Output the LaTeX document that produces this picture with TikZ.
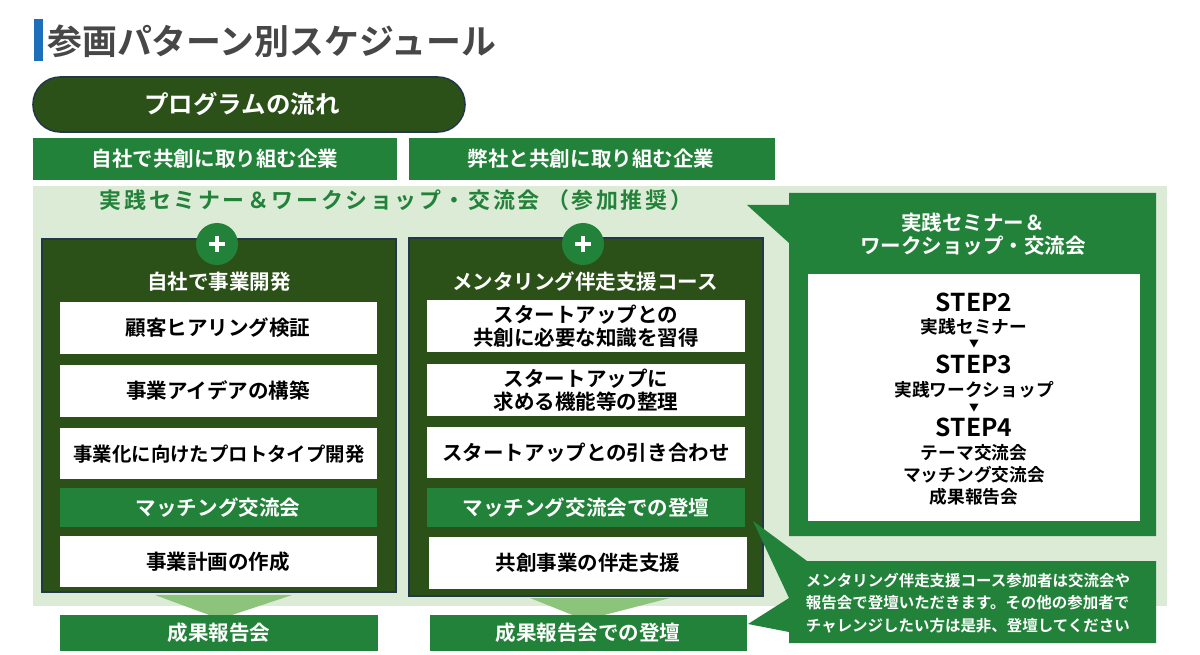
\documentclass[tikz,border=0pt]{standalone}
\usepackage{fontspec}
\setmainfont{Noto Sans CJK JP}[BoldFont={Noto Sans CJK JP Bold}]
\definecolor{dkgreen}{HTML}{2B5118}
\definecolor{midgreen}{HTML}{23823A}
\definecolor{palegreen}{HTML}{DCEBD6}
\definecolor{trigreen}{HTML}{8DC47C}
\definecolor{navyline}{HTML}{22384A}
\definecolor{titlegray}{HTML}{474747}
\definecolor{barblue}{HTML}{1E6FBA}
\begin{document}
\begin{tikzpicture}[x=0.025cm, y=-0.025cm,
  every node/.style={inner sep=0pt},
  boxtxt/.style={font=\bfseries\fontsize{14.6}{16.5}\selectfont, align=center},
  wtxt/.style={boxtxt, text=white},
  steptxt/.style={font=\bfseries\fontsize{17.5}{20}\selectfont},
  subtxt/.style={font=\bfseries\fontsize{12.6}{15}\selectfont},
  darkbox/.style={fill=dkgreen, draw=navyline, line width=1.1pt}]
  \useasboundingbox (0,0) rectangle (1200,655);
  % title
  \fill[barblue] (34,19) rectangle (43,61);
  \node[anchor=west, text=titlegray, font=\bfseries\fontsize{24.8}{29}\selectfont] (title) at (47,41) {参画パターン別スケジュール};
  % program pill
  \draw[darkbox, rounded corners=0.68cm] (33,77) rectangle (465,132);
  \node[wtxt, font=\bfseries\fontsize{17.4}{20}\selectfont] (flow) at (242,104) {プログラムの流れ};
  % two headers
  \fill[midgreen] (33,138) rectangle (397,180);
  \node[wtxt] (selfco) at (215,159) {自社で共創に取り組む企業};
  \fill[midgreen] (409,138) rectangle (775,180);
  \node[wtxt] (ourco) at (591,159) {弊社と共創に取り組む企業};
  % pale background
  \fill[palegreen] (33,186) rectangle (1167,606);
  \node[text=midgreen, font=\bfseries\fontsize{15.6}{18}\selectfont\addfontfeature{LetterSpace=12}] (recom) at (396,200) {実践セミナー＆ワークショップ・交流会 （参加推奨）};
  % left column
  \draw[darkbox] (42,239) rectangle (396,592);
  \fill[midgreen] (217,244) circle (21);
  \draw[white, line width=2.8pt] (209,244) -- (225,244) (217,236) -- (217,252);
  \node[wtxt] (selfdev) at (219,282) {自社で事業開発};
  \fill[white] (60,302) rectangle (377,354);
  \node[boxtxt] (hear) at (218,328) {顧客ヒアリング検証};
  \fill[white] (60,365) rectangle (377,417);
  \node[boxtxt] (idea) at (218,391) {事業アイデアの構築};
  \fill[white] (60,428) rectangle (377,479);
  \node[boxtxt, font=\bfseries\fontsize{13.8}{16}\selectfont] (proto) at (219,454) {事業化に向けたプロトタイプ開発};
  \fill[midgreen] (60,488) rectangle (377,527);
  \node[wtxt] (match) at (218,508) {マッチング交流会};
  \fill[white] (60,536) rectangle (377,587);
  \node[boxtxt] (plan) at (218,562) {事業計画の作成};
  \fill[trigreen] (155,595) -- (292,595) -- (220,619) -- cycle;
  \fill[midgreen] (60,615) rectangle (378,651);
  \node[wtxt] (report) at (219,633) {成果報告会};
  % middle column
  \draw[darkbox] (409,238) rectangle (763,596);
  \fill[midgreen] (583,244) circle (21);
  \draw[white, line width=2.8pt] (575,244) -- (591,244) (583,236) -- (583,252);
  \node[wtxt] (mentor) at (585,282) {メンタリング伴走支援コース};
  \fill[white] (427,300) rectangle (745,352);
  \node[boxtxt] (learn) at (586,326) {スタートアップとの\\共創に必要な知識を習得};
  \fill[white] (427,364) rectangle (745,416);
  \node[boxtxt] (needs) at (586,390) {スタートアップに\\求める機能等の整理};
  \fill[white] (427,427) rectangle (745,478);
  \node[boxtxt] (intro) at (586,453) {スタートアップとの引き合わせ};
  \fill[midgreen] (427,488) rectangle (745,527);
  \node[wtxt] (pitch) at (586,508) {マッチング交流会での登壇};
  \fill[white] (429,537) rectangle (747,589);
  \node[boxtxt] (support) at (588,563) {共創事業の伴走支援};
  \fill[trigreen] (530,598) -- (670,598) -- (585,620) -- cycle;
  \fill[midgreen] (430,615) rectangle (747,651);
  \node[wtxt] (finalpitch) at (588,633) {成果報告会での登壇};
  % right callout with steps
  \fill[midgreen] (789,193) -- (1156,193) -- (1156,536) -- (789,536) -- (789,243) -- (747,205) -- (789,205) -- cycle;
  \node[wtxt] (wshead) at (973,234) {実践セミナー＆\\ワークショップ・交流会};
  \fill[white] (808,274) rectangle (1140,521);
  \node[steptxt] (step2) at (974,302) {STEP2};
  \node[subtxt] (seminar) at (974,327) {実践セミナー};
  \node[font=\fontsize{7}{8}\selectfont] (down1) at (974,344) {▼};
  \node[steptxt] (step3) at (974,364) {STEP3};
  \node[subtxt] (workshop) at (974,390) {実践ワークショップ};
  \node[font=\fontsize{7}{8}\selectfont] (down2) at (974,408) {▼};
  \node[steptxt] (step4) at (974,427) {STEP4};
  \node[subtxt] (theme) at (974,453) {テーマ交流会};
  \node[subtxt] (matchev) at (974,475) {マッチング交流会};
  \node[subtxt] (result) at (974,497) {成果報告会};
  % bottom note callout
  \fill[midgreen] (753,521) -- (807,561) -- (1156,561) -- (1156,643) -- (789,643) -- (789,632) -- (748,624) -- (789,598) -- cycle;
  \node[align=left, text=white, font=\bfseries\fontsize{11}{16}\selectfont] (note) at (968,603) {メンタリング伴走支援コース参加者は交流会や\\報告会で登壇いただきます。その他の参加者で\\チャレンジしたい方は是非、登壇してください};
\end{tikzpicture}
\end{document}
